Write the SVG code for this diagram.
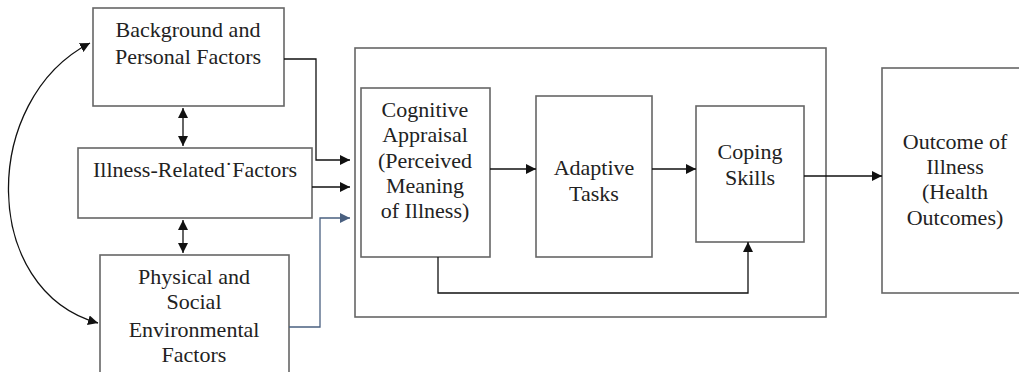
<svg xmlns="http://www.w3.org/2000/svg" width="1019" height="372" viewBox="0 0 1019 372">
<style>
.box{fill:#fff;stroke:#666;stroke-width:1.6}
.lbl{font-family:"Liberation Serif","Times New Roman",serif;font-size:22px;fill:#222;text-anchor:middle}
.ln{fill:none;stroke:#111;stroke-width:1.3}
.blue{stroke:#4a6080}
</style>
<defs>
<marker id="ah" viewBox="0 0 10 10" refX="10" refY="5" markerWidth="10" markerHeight="10" markerUnits="userSpaceOnUse" orient="auto-start-reverse"><path d="M0,0 L10,5 L0,10 z" fill="#111"/></marker>
<marker id="ahb" viewBox="0 0 10 10" refX="10" refY="5" markerWidth="10" markerHeight="10" markerUnits="userSpaceOnUse" orient="auto"><path d="M0,0 L10,5 L0,10 z" fill="#4a6080"/></marker>
</defs>
<rect width="1019" height="372" fill="#fff"/>
<g id="container"><rect class="box" x="355" y="48" width="471" height="269"/></g>
<g id="background"><rect class="box" x="93" y="8" width="191" height="98"/>
<text class="lbl" x="188" y="37">Background and</text><text class="lbl" x="188" y="64">Personal Factors</text></g>
<g id="illness"><rect class="box" x="78" y="148" width="234" height="70"/>
<text class="lbl" x="195" y="177">Illness-Related˙Factors</text></g>
<g id="physical"><rect class="box" x="100" y="255" width="189" height="125"/>
<text class="lbl" x="194" y="284">Physical and</text><text class="lbl" x="194" y="309">Social</text><text class="lbl" x="194" y="337">Environmental</text><text class="lbl" x="194" y="362">Factors</text></g>
<g id="cognitive"><rect class="box" x="361" y="88" width="129" height="169"/>
<text class="lbl" x="425" y="117">Cognitive</text><text class="lbl" x="425" y="142">Appraisal</text><text class="lbl" x="425" y="168">(Perceived</text><text class="lbl" x="425" y="193">Meaning</text><text class="lbl" x="425" y="218">of Illness)</text></g>
<g id="adaptive"><rect class="box" x="536" y="96" width="116" height="161"/>
<text class="lbl" x="594" y="175">Adaptive</text><text class="lbl" x="594" y="201">Tasks</text></g>
<g id="coping"><rect class="box" x="696" y="106" width="108" height="136"/>
<text class="lbl" x="750" y="159">Coping</text><text class="lbl" x="750" y="185">Skills</text></g>
<g id="outcome"><rect class="box" x="882" y="68" width="140" height="225"/>
<text class="lbl" x="955" y="149">Outcome of</text><text class="lbl" x="955" y="174">Illness</text><text class="lbl" x="955" y="199">(Health</text><text class="lbl" x="955" y="225">Outcomes)</text></g>
<g id="connectors">
<path class="ln" d="M284,59 H316 V160 H350" marker-end="url(#ah)"/>
<path class="ln" d="M312,187 H350" marker-end="url(#ah)"/>
<path class="ln blue" d="M289,327 H320 V218 H350" marker-end="url(#ahb)"/>
<path class="ln" d="M183,108 V146" marker-start="url(#ah)" marker-end="url(#ah)"/>
<path class="ln" d="M183,220 V253" marker-start="url(#ah)" marker-end="url(#ah)"/>
<path class="ln" d="M90,43 C-20,100 -20,290 98,323" marker-start="url(#ah)" marker-end="url(#ah)"/>
<path class="ln" d="M490,169 H536" marker-end="url(#ah)"/>
<path class="ln" d="M652,169 H696" marker-end="url(#ah)"/>
<path class="ln" d="M438,257 V293 H748 V242" marker-end="url(#ah)"/>
<path class="ln" d="M804,176 H882" marker-end="url(#ah)"/>
</g>
</svg>
